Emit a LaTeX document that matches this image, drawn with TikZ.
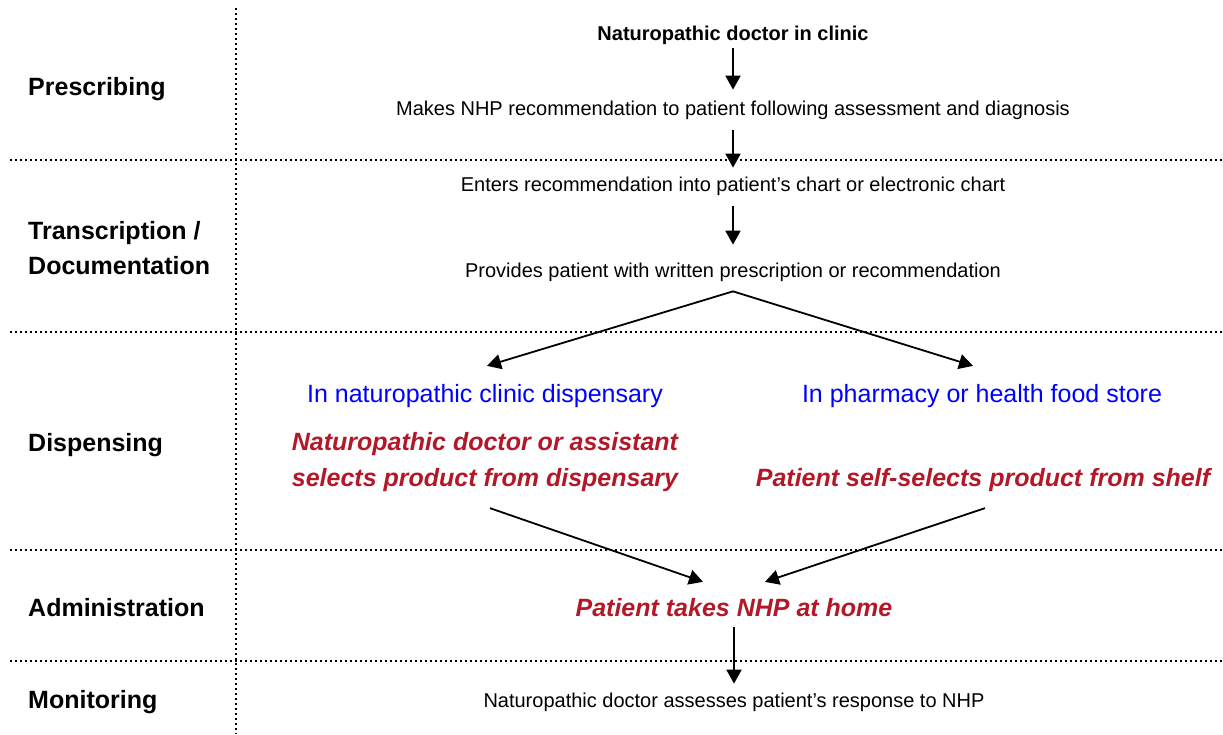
\documentclass[tikz,border=0pt]{standalone}
\usepackage{fontspec}
\setmainfont{Liberation Sans}
\usepackage{xcolor}
\usetikzlibrary{arrows.meta}
\definecolor{placeblue}{RGB}{0,0,255}
\definecolor{taskred}{RGB}{178,24,40}
\tikzset{%
  tipA/.tip={Triangle[length=14pt,width=15pt]},
  lane/.style={line width=2pt, dash pattern=on 2pt off 3pt},
  stagelbl/.style={anchor=west, inner sep=0pt, text height=17.9pt, text depth=0pt, font=\fontsize{25}{30}\selectfont\bfseries},
  act/.style={inner sep=0pt, text height=14.3pt, text depth=0pt, font=\fontsize{20}{24}\selectfont},
  place/.style={inner sep=0pt, text height=17.9pt, text depth=0pt, text=placeblue, font=\fontsize{25}{30}\selectfont},
  task/.style={place, text=taskred, font=\fontsize{25}{30}\selectfont\bfseries\itshape},
  flow/.style={black, line width=1.8pt, -tipA}
}
\begin{document}
\begin{tikzpicture}[x=1pt,y=-1pt]
    \useasboundingbox (0,0) rectangle (1223,734);
    % lanes
    \draw[lane] (236,8) -- (236,734);
    \foreach \y in {160,332,550,661} \draw[lane] (10,\y) -- (1223,\y);
    % stages
    \node[stagelbl] (prescribing) at (28,87) {Prescribing};
    \node[stagelbl] (transcription) at (28,231) {Transcription /};
    \node[stagelbl] (documentation) at (28,266) {Documentation};
    \node[stagelbl] (dispensing) at (28,443) {Dispensing};
    \node[stagelbl] (administration) at (28,608) {Administration};
    \node[stagelbl] (monitoring) at (28,700) {Monitoring};
    % steps
    \node[act, font=\fontsize{20}{24}\selectfont\bfseries] (doctor) at (733,33) {Naturopathic doctor in clinic};
    \node[act] (recommend) at (733,108) {Makes NHP recommendation to patient following assessment and diagnosis};
    \node[act] (chart) at (733,184) {Enters recommendation into patient’s chart or electronic chart};
    \node[act] (written) at (733,270) {Provides patient with written prescription or recommendation};
    \node[place] (clinic) at (485,394) {In naturopathic clinic dispensary};
    \node[place] (store) at (982,394) {In pharmacy or health food store};
    \node[task] (assistant) at (485,442) {Naturopathic doctor or assistant};
    \node[task] (selects) at (485,478) {selects product from dispensary};
    \node[task] (self) at (983,478) {Patient self-selects product from shelf};
    \node[task] (home) at (734,608) {Patient takes NHP at home};
    \node[act] (response) at (734,700) {Naturopathic doctor assesses patient’s response to NHP};
    % arrows
    \draw[flow, shorten <=8pt, shorten >=11pt] (doctor) -- (recommend);
    \draw[flow, shorten <=15pt, shorten >=9pt] (recommend) -- (chart);
    \draw[flow, shorten <=15pt, shorten >=18pt] (chart) -- (written);
    \coordinate (fork) at ([shift={(0,14)}]written.south);
    \draw[flow] (fork) -- ([shift={(2,-19)}]clinic.north);
    \draw[flow] (fork) -- ([shift={(-9,-19)}]store.north);
    \draw[flow] ([shift={(5,21)}]selects.south) -- ([shift={(-31,-17)}]home.north);
    \draw[flow] ([shift={(2,21)}]self.south) -- ([shift={(31,-17)}]home.north);
    \draw[flow, shorten <=10pt, shorten >=9pt] (home) -- (response);
\end{tikzpicture}
\end{document}
